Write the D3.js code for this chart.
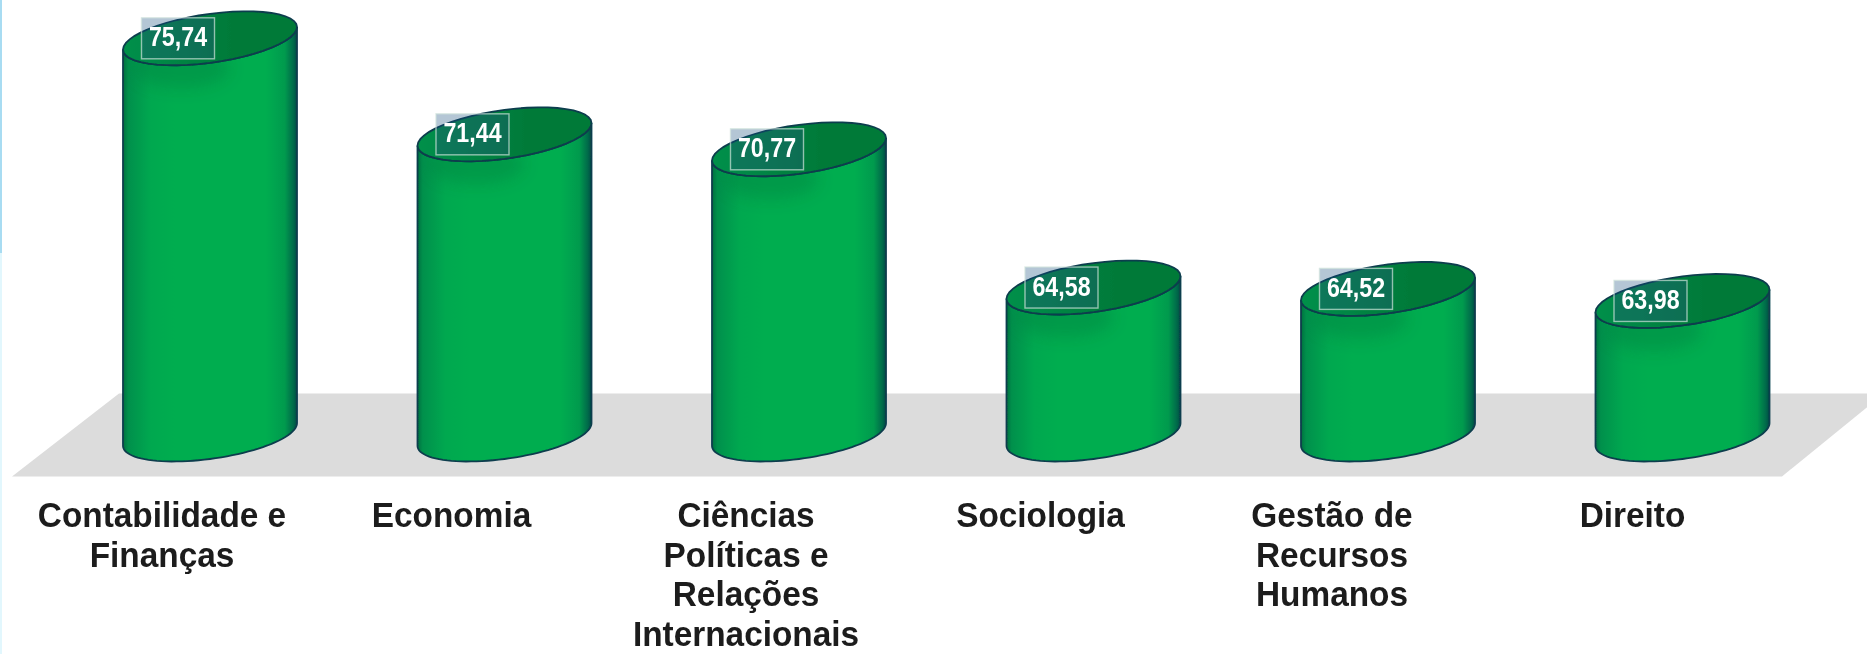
<!DOCTYPE html>
<html><head><meta charset="utf-8">
<script src="https://cdn.jsdelivr.net/npm/d3@7"></script>
<style>html,body{margin:0;padding:0;background:#fff;overflow:hidden}svg{display:block}</style>
</head><body><svg id="c" width="1867" height="654"></svg>
<script>
const categories = ["Contabilidade e Finanças","Economia","Ciências Políticas e Relações Internacionais","Sociologia","Gestão de Recursos Humanos","Direito"];
const values = [75.74,71.44,70.77,64.58,64.52,63.98];
const valueLabels = ["75,74","71,44","70,77","64,58","64,52","63,98"];
const labelLines = [["Contabilidade e","Finanças"],["Economia"],["Ciências","Políticas e","Relações","Internacionais"],["Sociologia"],["Gestão de","Recursos","Humanos"],["Direito"]];
const labelShift = [-48,-53,-53,-53,-56,-50];

const svg = d3.select("#c");
const W = 1867, H = 654;
const x = d3.scalePoint().domain(categories).range([210,1682.5]);
const y = d3.scaleLinear().domain([58,76]).range([434.5,32.5]);
const baseV = 58, a = 87, b = 24.5, s = 0.13;

const defs = svg.append("defs");
function grad(id, stops){
  const g = defs.append("linearGradient").attr("id",id).attr("x1","0").attr("x2","1").attr("y1","0").attr("y2","0");
  stops.forEach(([o,c])=>g.append("stop").attr("offset",o).attr("stop-color",c));
}
grad("body",[[0,"#05703f"],[.03,"#03904c"],[.16,"#00a850"],[.3,"#00ad50"],[.82,"#00ad50"],[.93,"#019a4e"],[.98,"#03694a"],[1,"#064a42"]]);
grad("top",[[0,"#04904a"],[.3,"#028544"],[.62,"#007a39"],[1,"#007a39"]]);
defs.append("filter").attr("id","soft").attr("x","-5%").attr("y","-5%").attr("width","110%").attr("height","110%")
  .append("feGaussianBlur").attr("stdDeviation",0.75);
defs.append("filter").attr("id","shade").attr("x","-30%").attr("y","-50%").attr("width","160%").attr("height","200%")
  .append("feGaussianBlur").attr("stdDeviation",8);

// window edge strip
svg.append("rect").attr("x",0).attr("y",0).attr("width",2).attr("height",H).attr("fill","#e2f7fd");
svg.append("rect").attr("x",0).attr("y",0).attr("width",2).attr("height",253).attr("fill","#a8dcf2");

const root = svg.append("g").attr("filter","url(#soft)");

// floor
root.append("path").attr("fill","#dcdcdc")
  .attr("d",d3.line()([[12,476.5],[119,393.5],[1884,393.5],[1782,476.5]])+"Z");

const ell = (cx,cy,t)=>[cx+a*Math.cos(t), cy - s*a*Math.cos(t) + b*Math.sin(t)];
const line = d3.line();
const arc = (cx,cy,t0,t1)=>d3.range(0,49).map(i=>ell(cx,cy,t0+(t1-t0)*i/48));

const bars = root.selectAll("g.bar").data(categories.map((c,i)=>({c,v:values[i],l:valueLabels[i],i})))
  .join("g").attr("class","bar");

bars.each(function(d){
  const g = d3.select(this), cx = x(d.c), cyT = y(d.v), cyB = y(baseV);
  const body = [...arc(cx,cyB,Math.PI,0), ...arc(cx,cyT,0,Math.PI)];
  const cid = "clip"+d.i;
  defs.append("clipPath").attr("id",cid).append("path").attr("d",line(body)+"Z");
  g.append("path").attr("d",line(body)+"Z").attr("fill","url(#body)").attr("stroke","#0b3d4d").attr("stroke-width",1.8);
  g.append("g").attr("clip-path",`url(#${cid})`).append("ellipse")
    .attr("cx",cx-28).attr("cy",cyT+30).attr("rx",48).attr("ry",20)
    .attr("fill","#006b3a").attr("opacity",.28).attr("filter","url(#shade)");
  g.append("path").attr("d",line(arc(cx,cyT,0,2*Math.PI))+"Z").attr("fill","url(#top)").attr("stroke","#0b3d4d").attr("stroke-width",1.8);
  // value label
  const bw = 73, bh = 41, bx = cx-32;
  g.append("rect").attr("x",bx-bw/2).attr("y",cyT-bh/2).attr("width",bw).attr("height",bh)
    .attr("fill","#1d5080").attr("fill-opacity",.33)
    .attr("stroke","#cfe3dc").attr("stroke-opacity",.7).attr("stroke-width",1.4);
  g.append("text").attr("transform",`translate(${bx},${cyT+8}) scale(.83,1)`).attr("text-anchor","middle")
    .attr("font-family","'Liberation Sans',sans-serif")
    .attr("font-weight","bold").attr("font-size",28).attr("fill","#fff").text(d.l);
  // category label
  const t = g.append("text").attr("text-anchor","middle")
    .attr("transform",`translate(${cx+labelShift[d.i]},0) scale(.94,1)`)
    .attr("font-family","'Liberation Sans',sans-serif")
    .attr("font-weight","bold").attr("font-size",35.5).attr("fill","#1a1a1a");
  labelLines[d.i].forEach((ln,k)=>t.append("tspan").attr("x",0).attr("y",527.5+39.4*k).text(ln));
});
</script></body></html>
